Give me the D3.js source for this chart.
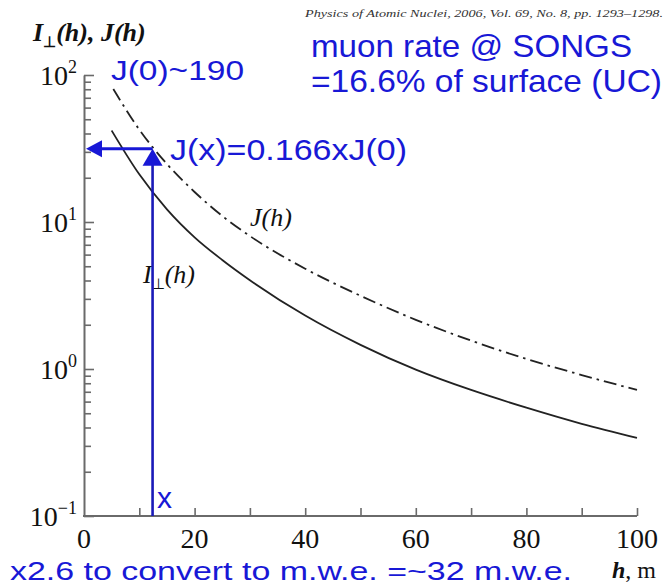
<!DOCTYPE html>
<html><head><meta charset="utf-8">
<script src="https://cdn.jsdelivr.net/npm/d3@7"></script>
<style>body{margin:0;background:#fff} svg{display:block}</style>
</head><body>
<svg id="chart" width="666" height="587"></svg>
<script>
// Vertical muon intensity I⊥(h) and integral flux J(h) versus depth h (m)
const depthI = [5, 10, 15, 20, 25, 30, 40, 50, 60, 70, 80, 90, 100];
const intensityI = [41.9, 21.1, 12.2, 7.87, 5.52, 4.02, 2.31, 1.46, 0.99, 0.72, 0.546, 0.424, 0.34];
const depthJ = [5.3, 10, 15, 20, 25, 30, 40, 50, 60, 70, 80, 90, 100];
const fluxJ = [80.3, 42.5, 24.8, 16.0, 11.0, 8.03, 4.81, 3.15, 2.16, 1.56, 1.17, 0.91, 0.72];
const xTickLabels = [0, 20, 40, 60, 80, 100];
const xTickAll = [10, 20, 30, 40, 50, 60, 70, 80, 90, 100];
const yDecades = [0.1, 1, 10, 100];
const yExponents = ["\u22121", "0", "1", "2"];
const surfaceJ0 = 190, surfaceRatio = 0.166, depthX = 12.4;

const svg = d3.select("#chart");
const x = d3.scaleLinear().domain([0, 100]).range([84, 637]);
const y = d3.scaleLog().domain([0.1, 100]).range([516, 75]);

const axisColor = "#6a6a6a";
const serif = "'Liberation Serif','Times New Roman',serif";
const sans = "'Liberation Sans',Arial,sans-serif";
const blue = "#1818d6";

// x axis: ticks point into the plot
const gx = svg.append("g").attr("transform", `translate(0,${y.range()[0]})`)
  .call(d3.axisBottom(x).tickValues(xTickAll).tickSizeInner(-8).tickSizeOuter(0).tickFormat(""));
// y axis: decade ticks and minor ticks, inside
const minors = [];
yDecades.slice(0, -1).forEach(d => { for (let k = 2; k <= 9; k++) minors.push(d * k); });
const gy = svg.append("g").attr("transform", `translate(${x.range()[0]},0)`)
  .call(d3.axisLeft(y).tickValues(yDecades).tickSizeInner(-10).tickSizeOuter(0).tickFormat(""));
const gyMinor = svg.append("g").attr("transform", `translate(${x.range()[0]},0)`)
  .call(d3.axisLeft(y).tickValues(minors).tickSizeInner(-7).tickSizeOuter(0).tickFormat(""));
gyMinor.select(".domain").remove();
[gx, gy, gyMinor].forEach(g => {
  g.select(".domain").attr("stroke", axisColor).attr("stroke-width", 2);
  g.selectAll(".tick line").attr("stroke", axisColor).attr("stroke-width", 1.6);
});
// extend bottom axis to the corner
gx.select(".domain").attr("d", `M${x.range()[0] - 1},0H${x.range()[1]}`);

// tick labels
svg.append("g").selectAll("text").data(xTickLabels).join("text")
  .attr("x", d => x(d)).attr("y", y.range()[0] + 32)
  .attr("text-anchor", "middle").attr("font-family", serif).attr("font-size", 28)
  .attr("fill", "#111").text(d => d);
const yl = svg.append("g").selectAll("text").data(yDecades).join("text")
  .attr("x", 77).attr("y", d => y(d) + 10)
  .attr("text-anchor", "end").attr("font-family", serif).attr("font-size", 28).attr("fill", "#111");
yl.append("tspan").text("10");
yl.append("tspan").attr("dy", -12).attr("font-size", 18).text((d, i) => yExponents[i]);

// axis titles
const yt = svg.append("text").attr("x", 33).attr("y", 41)
  .attr("font-family", serif).attr("font-style", "italic").attr("font-size", 26)
  .attr("font-weight", "bold").attr("fill", "#111");
yt.append("tspan").text("I");
yt.append("tspan").attr("dy", 6).attr("font-size", 15).attr("font-style", "normal").attr("dx", 0).text("\u22A5");
yt.append("tspan").attr("dy", -6).text("(h), J(h)");
const xt = svg.append("text").attr("x", 612).attr("y", 578)
  .attr("font-family", serif).attr("font-size", 24).attr("fill", "#111");
xt.append("tspan").attr("font-style", "italic").attr("font-weight", "bold").text("h");
xt.append("tspan").text(", m");

// citation
svg.append("text").attr("x", 305).attr("y", 17)
  .attr("font-family", serif).attr("font-style", "italic").attr("font-size", 11)
  .attr("textLength", 358).attr("lengthAdjust", "spacingAndGlyphs").attr("fill", "#333")
  .text("Physics of Atomic Nuclei, 2006, Vol. 69, No. 8,  pp. 1293\u20131298.");

// curves
const line = d3.line().x(d => x(d[0])).y(d => y(d[1])).curve(d3.curveMonotoneX);
svg.append("path").datum(depthI.map((h, i) => [h, intensityI[i]]))
  .attr("d", line).attr("fill", "none").attr("stroke", "#222").attr("stroke-width", 1.8);
svg.append("path").datum(depthJ.map((h, i) => [h, fluxJ[i]]))
  .attr("d", line).attr("fill", "none").attr("stroke", "#222").attr("stroke-width", 1.8)
  .attr("stroke-dasharray", "13,5,2.5,5");

// curve labels
svg.append("text").attr("x", 250).attr("y", 226)
  .attr("font-family", serif).attr("font-style", "italic").attr("font-size", 26).attr("fill", "#111")
  .text("J(h)");
const li = svg.append("text").attr("x", 143).attr("y", 283)
  .attr("font-family", serif).attr("font-style", "italic").attr("font-size", 26).attr("fill", "#111");
li.append("tspan").text("I");
li.append("tspan").attr("dy", 6).attr("dx", 0).attr("font-size", 15).attr("font-style", "normal").text("\u22A5");
li.append("tspan").attr("dy", -6).text("(h)");

// depth annotation: vertical from the axis up to J(x), horizontal back to the y axis
const jx = surfaceJ0 * surfaceRatio;
const px = x(depthX), py = y(jx);
svg.append("line").attr("x1", px).attr("x2", px).attr("y1", y.range()[0]).attr("y2", py + 14)
  .attr("stroke", "#1a1ab8").attr("stroke-width", 2.6);
svg.append("path").attr("d", `M${px},${py}L${px - 10},${py + 17}L${px + 10},${py + 17}Z`).attr("fill", blue);
svg.append("line").attr("x1", px).attr("x2", x(0) + 14).attr("y1", py).attr("y2", py)
  .attr("stroke", blue).attr("stroke-width", 3);
svg.append("path").attr("d", `M${x(0) + 2},${py}L${x(0) + 18},${py - 8.5}L${x(0) + 18},${py + 8.5}Z`).attr("fill", blue);

// blue notes
function note(txt, x0, y0, size, len) {
  svg.append("text").attr("x", x0).attr("y", y0).attr("font-family", sans)
    .attr("font-size", size).attr("fill", blue)
    .attr("textLength", len).attr("lengthAdjust", "spacingAndGlyphs").text(txt);
}
note("muon rate @ SONGS", 311, 57, 32, 321);
note("=16.6% of surface (UC)", 311, 92, 32, 351);
note(`J(0)~${surfaceJ0}`, 111, 80, 28, 133);
note(`J(x)=${surfaceRatio}xJ(0)`, 170, 160, 30, 237);
note("x", 157, 508, 30, 15);
note("x2.6 to convert to m.w.e. =~32 m.w.e.", 10, 580, 25, 562);
</script>
</body></html>
